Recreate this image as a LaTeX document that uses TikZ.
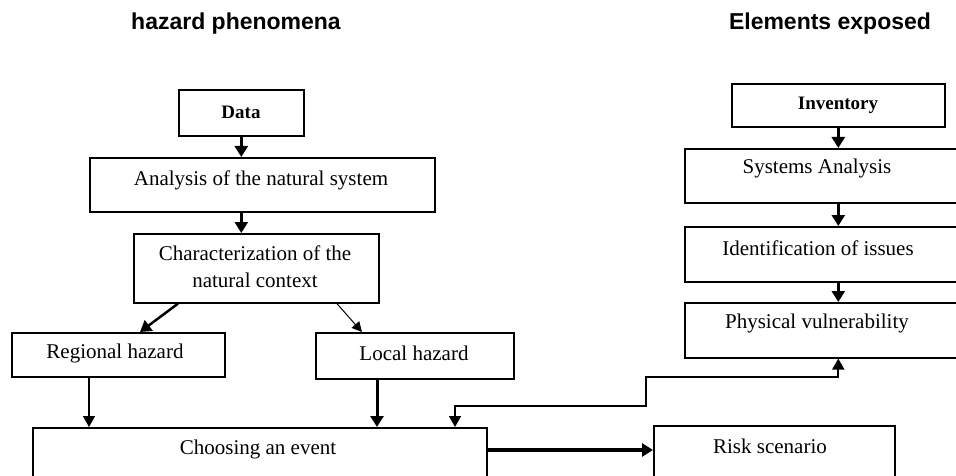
\documentclass[tikz,border=0pt]{standalone}
\usepackage{fontspec}
\setmainfont{Liberation Serif}
\newfontfamily\titlefont{Liberation Sans}
\usetikzlibrary{arrows.meta,calc}
\begin{document}
\begin{tikzpicture}[x=1pt,y=-1pt,
  box/.style={draw=black,line width=1.6pt,rectangle,inner sep=0pt,anchor=north west},
  txt/.style={font=\fontsize{21}{24}\selectfont,inner sep=0pt},
  ttl/.style={font=\titlefont\bfseries\fontsize{23}{26}\selectfont,inner sep=0pt},
  thinarr/.style={line width=1.5pt,-{Triangle[width=12pt,length=11pt]}},
  stubarr/.style={line width=2.5pt,-{Triangle[width=13pt,length=11pt]}},
  thickarr/.style={line width=3pt,-{Triangle[width=13pt,length=11pt]}},
  fbarr/.style={line width=2pt,{Triangle[width=12pt,length=11pt]}-{Triangle[width=12pt,length=11pt]}}]
\useasboundingbox (0,0) rectangle (956,476);
\clip (0,0) rectangle (956,476);
\fill[white] (0,0) rectangle (956,476);

% titles
\node[ttl] (t1) at (236,24) {hazard phenomena};
\node[ttl] (t2) at (830,24) {Elements exposed};

% left column boxes
\node[box,minimum width=125pt,minimum height=46pt] (data) at (178,89) {};
\node[txt,font=\bfseries\fontsize{19}{22}\selectfont] (datat) at (241,112) {Data};
\node[box,minimum width=345pt,minimum height=54pt] (ana) at (89,157) {};
\node[txt] (anat) at (261,180) {Analysis of the natural system};
\node[box,minimum width=245pt,minimum height=69pt] (char) at (133,233) {};
\node[txt,align=center,font=\fontsize{21}{27}\selectfont] (chart) at (255,267) {Characterization of the\\natural context};
\node[box,minimum width=213pt,minimum height=44pt] (reg) at (11,332) {};
\node[txt] (regt) at (115,353) {Regional hazard};
\node[box,minimum width=198pt,minimum height=46pt] (loc) at (315,332) {};
\node[txt] (loct) at (414,353) {Local hazard};
\node[box,minimum width=454pt,minimum height=100pt] (choose) at (32,427) {};
\node[txt] (chooset) at (258,449) {Choosing an event};
\node[box,minimum width=241pt,minimum height=100pt] (risk) at (653,425) {};
\node[txt] (riskt) at (770,446) {Risk scenario};

% right column boxes
\node[box,minimum width=213pt,minimum height=43pt] (inv) at (731,83) {};
\node[txt,font=\bfseries\fontsize{19}{22}\selectfont] (invt) at (838,105) {Inventory};
\node[box,minimum width=320pt,minimum height=54pt] (sys) at (684,148) {};
\node[txt] (syst) at (817,168) {Systems Analysis};
\node[box,minimum width=320pt,minimum height=55pt] (iden) at (684,226) {};
\node[txt] (ident) at (818,248) {Identification of issues};
\node[box,minimum width=320pt,minimum height=55pt] (phys) at (684,302) {};
\node[txt] (physt) at (817,323) {Physical vulnerability};

% left arrows
\draw[stubarr] (data.south) -- (data.south |- ana.north);
\draw[stubarr] (data.south |- ana.south) -- (data.south |- char.north);
\draw[thickarr,line width=2.5pt] ($(char.south west)+(45,0)$) -- ($(reg.north west)+(129,0)$);
\draw[line width=1pt,-{Triangle[width=10pt,length=10pt]}] ($(char.south west)+(203,-1)$) -- ($(loc.north west)+(47,0)$);
\draw[thinarr] ($(reg.south west)+(78,0)$) -- ($(choose.north west)+(57,0)$);
\draw[thickarr] ($(loc.south west)+(62,0)$) -- ($(choose.north west)+(345,0)$);
\draw[thickarr,line width=3.5pt] ($(choose.north east)+(0,23)$) -- (risk.west |- {$(choose.north east)+(0,23)$});

% right arrows
\draw[stubarr] (inv.south) -- (inv.south |- sys.north);
\draw[stubarr] (inv.south |- sys.south) -- (inv.south |- iden.north);
\draw[stubarr] (inv.south |- iden.south) -- (inv.south |- phys.north);

% feedback connector
\coordinate (fbA) at (646,406);
\coordinate (fbB) at (646,377);
\draw[fbarr] ($(choose.north west)+(423,0)$) |- (fbA) -- (fbB) -- (inv.south |- fbB) -- (inv.south |- phys.south);
\end{tikzpicture}
\end{document}
